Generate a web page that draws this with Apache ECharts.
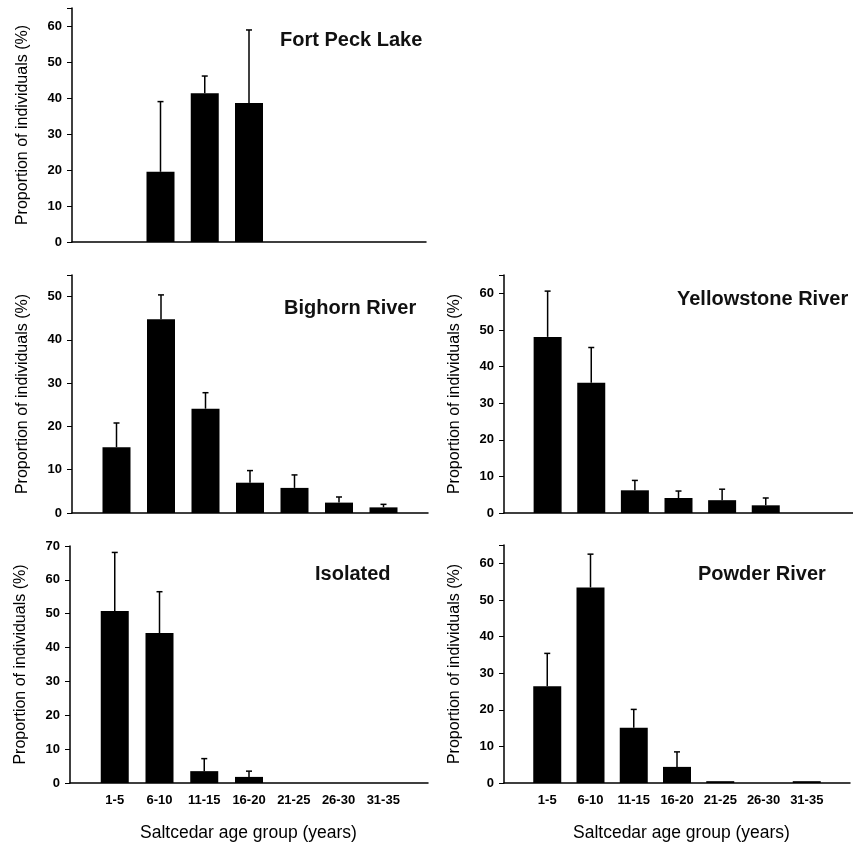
<!DOCTYPE html>
<html>
<head>
<meta charset="utf-8">
<title>Saltcedar age groups</title>
<script src="https://cdn.jsdelivr.net/npm/echarts@6/dist/echarts.min.js"></script>
<style>
  html, body { margin: 0; padding: 0; background: #fff; }
  #chart { width: 853px; height: 845px; }
</style>
</head>
<body>
<div id="chart"></div>
<script>
// age groups on the x axis
const ageGroups = ['1-5', '6-10', '11-15', '16-20', '21-25', '26-30', '31-35']

// mean proportion (%) and upper error (%) per site
const fortPeckMean = [0, 19.5, 41.3, 38.6, 0, 0, 0]
const fortPeckErr = [0, 19.5, 4.8, 20.3, 0, 0, 0]

const bighornMean = [15.2, 44.8, 24.1, 7.0, 5.8, 2.4, 1.3]
const bighornErr = [5.6, 5.6, 3.7, 2.8, 3.0, 1.3, 0.7]

const yellowstoneMean = [48.1, 35.6, 6.2, 4.1, 3.5, 2.1, 0]
const yellowstoneErr = [12.5, 9.6, 2.7, 1.9, 3.0, 2.0, 0]

const isolatedMean = [50.8, 44.3, 3.5, 1.8, 0, 0, 0]
const isolatedErr = [17.3, 12.2, 3.7, 1.7, 0, 0, 0]

const powderMean = [26.4, 53.4, 15.1, 4.4, 0.5, 0, 0.5]
const powderErr = [9.0, 9.1, 5.0, 4.1, 0, 0, 0]

const yMax = [65, 55, 65, 70, 65]

const FONT = 'Liberation Sans, Arial, sans-serif'

// panel layout: grid + title position
const panels = [
  { name: 'Fort Peck Lake', mean: fortPeckMean, err: fortPeckErr,
    grid: { left: 72, top: 8, width: 354, height: 234 }, title: { left: 280, top: 30 }, labels: false },
  { name: 'Bighorn River', mean: bighornMean, err: bighornErr,
    grid: { left: 72, top: 275, width: 356, height: 238 }, title: { left: 284, top: 298 }, labels: false },
  { name: 'Yellowstone River', mean: yellowstoneMean, err: yellowstoneErr,
    grid: { left: 504, top: 275, width: 357, height: 238 }, title: { left: 677, top: 289 }, labels: false },
  { name: 'Isolated', mean: isolatedMean, err: isolatedErr,
    grid: { left: 70, top: 546, width: 358, height: 237 }, title: { left: 315, top: 564 }, labels: true },
  { name: 'Powder River', mean: powderMean, err: powderErr,
    grid: { left: 504, top: 545, width: 357, height: 238 }, title: { left: 698, top: 564 }, labels: true }
]

// empty slot on both ends of the axis
const cats = [''].concat(ageGroups, [''])

const chart = echarts.init(document.getElementById('chart'))

const grids = []
const xAxes = []
const yAxes = []
const series = []
const titles = []

panels.forEach((p, i) => {
  grids.push(p.grid)
  titles.push({
    text: p.name,
    left: p.title.left,
    top: p.title.top,
    padding: 0,
    textStyle: { fontFamily: FONT, fontSize: 20, fontWeight: 'bold', color: '#111' }
  })
  xAxes.push({
    type: 'category',
    gridIndex: i,
    data: cats,
    boundaryGap: false,
    axisLine: { lineStyle: { color: '#000', width: 1.5 } },
    axisTick: { show: false },
    axisLabel: {
      show: p.labels,
      interval: 0,
      margin: 11,
      fontFamily: FONT,
      fontSize: 13,
      fontWeight: 'bold',
      color: '#000'
    },
    splitLine: { show: false }
  })
  yAxes.push({
    type: 'value',
    gridIndex: i,
    min: 0,
    max: yMax[i],
    interval: 10,
    name: 'Proportion of individuals (%)',
    nameLocation: 'middle',
    nameGap: 41,
    nameTextStyle: { fontFamily: FONT, fontSize: 16, color: '#000' },
    axisLine: { show: true, lineStyle: { color: '#000', width: 1.5 } },
    axisTick: { show: true, length: 5, lineStyle: { color: '#000' } },
    axisLabel: {
      margin: 10,
      fontFamily: FONT,
      fontSize: 13,
      fontWeight: 'bold',
      color: '#000',
      formatter: v => (v % 10 !== 0) ? '' : v
    },
    splitLine: { show: false }
  })

  const barData = ['-'].concat(p.mean, ['-'])
  series.push({
    type: 'bar',
    xAxisIndex: i,
    yAxisIndex: i,
    data: barData,
    barWidth: 28,
    itemStyle: { color: '#000' },
    animation: false
  })

  const errData = []
  p.mean.forEach((m, k) => {
    if (p.err[k] > 0) errData.push([k + 1, m, m + p.err[k]])
  })
  series.push({
    type: 'custom',
    xAxisIndex: i,
    yAxisIndex: i,
    data: errData,
    z: 1,
    animation: false,
    renderItem: (params, api) => {
      const lo = api.coord([api.value(0), api.value(1)])
      const hi = api.coord([api.value(0), api.value(2)])
      const style = { stroke: '#000', lineWidth: 1.5 }
      return {
        type: 'group',
        children: [
          { type: 'line', shape: { x1: lo[0], y1: lo[1], x2: hi[0], y2: hi[1] }, style },
          { type: 'line', shape: { x1: hi[0] - 3, y1: hi[1], x2: hi[0] + 3, y2: hi[1] }, style }
        ]
      }
    }
  })
})

chart.setOption({
  backgroundColor: '#fff',
  animation: false,
  title: titles,
  grid: grids,
  xAxis: xAxes,
  yAxis: yAxes,
  series: series,
  graphic: [
    {
      type: 'text', left: 140, top: 824,
      style: { text: 'Saltcedar age group (years)', font: '17.5px ' + FONT, fill: '#000' }
    },
    {
      type: 'text', left: 573, top: 824,
      style: { text: 'Saltcedar age group (years)', font: '17.5px ' + FONT, fill: '#000' }
    }
  ]
})
</script>
</body>
</html>
